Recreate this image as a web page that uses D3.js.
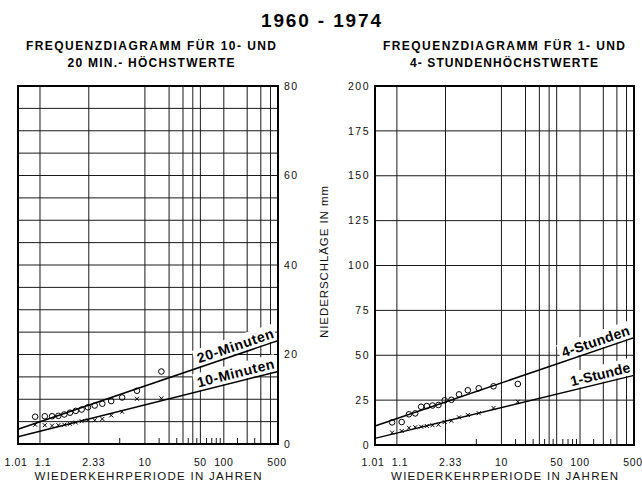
<!DOCTYPE html>
<html><head><meta charset="utf-8">
<script src="https://cdn.jsdelivr.net/npm/d3@7"></script>
<style>body{margin:0;background:#fff}</style>
</head><body>
<svg id="c" width="642" height="483"></svg>
<script>
// ---------- data ----------
const mainTitle = "1960 - 1974";
const leftTitle = ["FREQUENZDIAGRAMM FÜR 10- UND", "20 MIN.- HÖCHSTWERTE"];
const rightTitle = ["FREQUENZDIAGRAMM FÜR 1- UND", "4- STUNDENHÖCHSTWERTE"];
const xTitle = "WIEDERKEHRPERIODE IN JAHREN";
const yTitleRight = "NIEDERSCHLÄGE IN mm";
const xDomain = [1.01, 500];
const xLabelPeriods = [1.01, 1.1, 2.33, 10, 50, 100, 500];
const xLabelText = ["1.01", "1.1", "2.33", "10", "50", "100", "500"];
const xGridPeriods = [1.1, 2.33, 10, 20, 30, 40, 50, 100, 200, 300, 400];
const xMinorTicks = [5, 15, 25, 35, 45, 60, 70, 80, 90, 150, 250];
const leftYDomain = [0, 80];
const leftYLabels = [0, 20, 40, 60, 80];
const leftYGrid = [5, 10, 15, 20, 25, 30, 35, 40, 45, 50, 55, 60, 65, 70, 75];
const rightYDomain = [0, 200];
const rightYLabels = [0, 25, 50, 75, 100, 125, 150, 175, 200];
const rightYGrid = [25, 50, 75, 100, 125, 150, 175];

// plotting positions (return periods, years) of the observed maxima
const obsPeriods = [1.067, 1.143, 1.231, 1.333, 1.455, 1.6, 1.778, 2, 2.286, 2.667, 3.2, 4, 5.333, 8, 16];
const min20 = [6.1, 6.2, 6.2, 6.3, 6.6, 7.0, 7.4, 7.7, 8.2, 8.6, 9.0, 9.6, 10.4, 11.9, 16.2];
const min10 = [4.3, 4.2, 4.1, 4.2, 4.3, 4.5, 4.8, 5.1, 5.3, 5.3, 5.6, 6.4, 7.2, 10.1, 10.2];
const hr4 = [12.6, 12.8, 17.1, 17.6, 21.3, 21.7, 22.0, 22.3, 24.9, 25.2, 28.2, 30.5, 31.6, 32.7, 34.0];
const hr1 = [6.9, 7.8, 9.6, 9.9, 10.2, 10.6, 11.0, 11.3, 12.8, 13.5, 15.4, 16.7, 17.7, 20.6, 24.1];

// fitted Gumbel lines (value at 1.01 and 500 years)
const fitPeriods = [1.01, 500];
const fit20 = [3.3, 23.1];
const fit10 = [1.6, 16.2];
const fit4 = [10.6, 59.8];
const fit1 = [3.7, 38.8];

// ---------- drawing ----------
const svg = d3.select("#c");
const FONT = "'Liberation Sans', Arial, Helvetica, sans-serif";
const gumbel = T => -Math.log(-Math.log(1 - 1 / T));
const labelNudge = { "1.01": -2, "1.1": 3, "2.33": 5, "500": -1 };

svg.append("text").attr("x", 321).attr("y", 26.5).attr("text-anchor", "middle")
  .attr("font-family", FONT).attr("font-weight", "bold").attr("font-size", 19)
  .attr("textLength", 120).attr("lengthAdjust", "spacing").text(mainTitle);

function panel(o) {
  const g = svg.append("g");
  const x = d3.scaleLinear().domain(xDomain.map(gumbel)).range([o.x0, o.x1]);
  const y = d3.scaleLinear().domain(o.yDomain).range([o.y1, o.y0]);
  const X = T => x(gumbel(T));

  o.title.forEach((t, i) => {
    g.append("text").attr("x", o.tcx).attr("y", 50 + i * 16.5).attr("text-anchor", "middle")
      .attr("font-family", FONT).attr("font-weight", "bold").attr("font-size", 12)
      .attr("textLength", o.tlen[i]).attr("lengthAdjust", "spacing").text(t);
  });

  g.selectAll(".hg").data(o.yGrid).join("line")
    .attr("x1", o.x0).attr("x2", o.x1).attr("y1", d => y(d)).attr("y2", d => y(d))
    .attr("stroke", "#1a1a1a").attr("stroke-width", 1);
  g.selectAll(".vg").data(xGridPeriods).join("line")
    .attr("x1", X).attr("x2", X).attr("y1", o.y0).attr("y2", o.y1)
    .attr("stroke", "#1a1a1a").attr("stroke-width", 1);
  g.selectAll(".mt").data(xMinorTicks).join("line")
    .attr("x1", X).attr("x2", X).attr("y1", o.y1).attr("y2", o.y1 - 6)
    .attr("stroke", "#1a1a1a").attr("stroke-width", 1);

  o.fits.forEach(f => {
    const p0 = [X(fitPeriods[0]), y(f.v[0])], p1 = [X(fitPeriods[1]), y(f.v[1])];
    const ang = Math.atan2(p1[1] - p0[1], p1[0] - p0[0]) * 180 / Math.PI;
    const lx = o.x1 - 2;
    const ly = p0[1] + (p1[1] - p0[1]) * (lx - p0[0]) / (p1[0] - p0[0]);
    const lg = g.append("g").attr("transform", `translate(${lx},${ly}) rotate(${ang})`);
    const bg = lg.append("rect").attr("fill", "#fff");
    const t = lg.append("text").attr("x", 0).attr("y", -4).attr("text-anchor", "end")
      .attr("font-family", FONT).attr("font-weight", "bold").attr("font-size", 14)
      .attr("textLength", f.len).attr("lengthAdjust", "spacing").text(f.label);
    const bb = t.node().getBBox();
    bg.attr("x", bb.x - 3).attr("y", bb.y - 1).attr("width", bb.width + 5).attr("height", bb.height + 1);
    g.append("line").attr("x1", p0[0]).attr("y1", p0[1]).attr("x2", p1[0]).attr("y2", p1[1])
      .attr("stroke", "#000").attr("stroke-width", 1.5);
  });

  g.append("rect").attr("x", o.x0).attr("y", o.y0).attr("width", o.x1 - o.x0).attr("height", o.y1 - o.y0)
    .attr("fill", "none").attr("stroke", "#000").attr("stroke-width", 2);

  g.selectAll(".circ").data(obsPeriods.map((T, i) => [T, o.circ[i]])).join("circle")
    .attr("cx", d => X(d[0])).attr("cy", d => y(d[1])).attr("r", 2.8)
    .attr("fill", "none").attr("stroke", "#000").attr("stroke-width", 1);
  const s = 2;
  g.selectAll(".cross").data(obsPeriods.map((T, i) => [T, o.cross[i]])).join("path")
    .attr("d", d => { const cx = X(d[0]), cy = y(d[1]);
      return `M${cx - s},${cy - s}L${cx + s},${cy + s}M${cx - s},${cy + s}L${cx + s},${cy - s}`; })
    .attr("stroke", "#000").attr("stroke-width", 1).attr("fill", "none");

  g.selectAll(".xl").data(xLabelPeriods).join("text")
    .attr("x", (d, i) => X(d) + (labelNudge[xLabelText[i]] || 0)).attr("y", 465.5).attr("text-anchor", "middle")
    .attr("font-family", FONT).attr("font-size", 10.5).attr("letter-spacing", 0.6).attr("fill", "#111")
    .text((d, i) => xLabelText[i]);
  g.append("text").attr("x", (o.x0 + o.x1) / 2).attr("y", 480).attr("text-anchor", "middle")
    .attr("font-family", FONT).attr("font-size", 11.5).attr("fill", "#111")
    .attr("textLength", 227).attr("lengthAdjust", "spacing").text(xTitle);

  g.selectAll(".yl").data(o.yLabels).join("text")
    .attr("x", o.ySide === "right" ? o.x1 + 6 : o.x0 - 5).attr("y", d => y(d)).attr("dy", "0.35em")
    .attr("text-anchor", o.ySide === "right" ? "start" : "end")
    .attr("font-family", FONT).attr("font-size", 10.5).attr("letter-spacing", 1.5).attr("fill", "#111")
    .text(d => d);
  return { x, y };
}

panel({
  x0: 18, x1: 278, y0: 86, y1: 444, yDomain: leftYDomain, yGrid: leftYGrid, yLabels: leftYLabels,
  ySide: "right", title: leftTitle, tcx: 151, tlen: [250, 167],
  circ: min20, cross: min10,
  fits: [{ v: fit20, label: "20-Minuten", len: 80 }, { v: fit10, label: "10-Minuten", len: 79 }]
});
panel({
  x0: 375, x1: 634, y0: 86, y1: 445, yDomain: rightYDomain, yGrid: rightYGrid, yLabels: rightYLabels,
  ySide: "left", title: rightTitle, tcx: 504, tlen: [242, 188],
  circ: hr4, cross: hr1,
  fits: [{ v: fit4, label: "4-Stunden", len: 71 }, { v: fit1, label: "1-Stunde", len: 61 }]
});

svg.append("text").attr("transform", "translate(328,262) rotate(-90)").attr("text-anchor", "middle")
  .attr("font-family", FONT).attr("font-size", 11.5).attr("fill", "#111")
  .attr("textLength", 152).attr("lengthAdjust", "spacing").text(yTitleRight);
</script>
</body></html>
